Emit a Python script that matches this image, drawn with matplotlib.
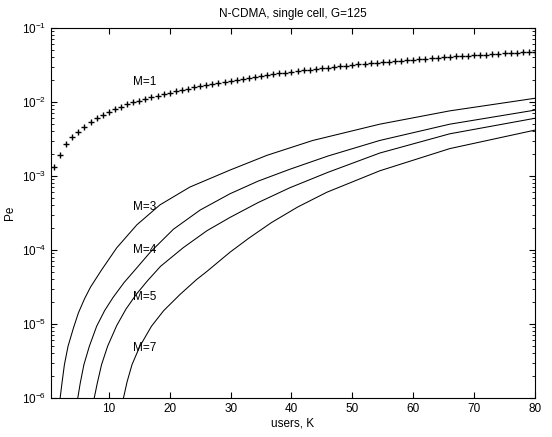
import matplotlib
matplotlib.use('Agg')
import matplotlib.pyplot as plt
import numpy as np

plt.rcParams['font.family'] = ['Liberation Sans', 'DejaVu Sans']
plt.rcParams['mathtext.fontset'] = 'custom'
plt.rcParams['mathtext.rm'] = 'Liberation Sans'

# M=1, one point per user count K=1..80
k_m1 = list(range(1, 81))
pe_m1 = [1.33e-3, 1.95e-3, 2.67e-3, 3.32e-3, 3.95e-3, 4.62e-3, 5.30e-3, 6.00e-3, 6.75e-3, 7.35e-3,
         7.95e-3, 8.60e-3, 9.25e-3, 9.85e-3, 1.04e-2, 1.09e-2, 1.15e-2, 1.21e-2, 1.27e-2, 1.33e-2,
         1.39e-2, 1.45e-2, 1.51e-2, 1.58e-2, 1.64e-2, 1.70e-2, 1.76e-2, 1.82e-2, 1.88e-2, 1.94e-2,
         2.00e-2, 2.06e-2, 2.12e-2, 2.19e-2, 2.25e-2, 2.31e-2, 2.37e-2, 2.43e-2, 2.49e-2, 2.55e-2,
         2.61e-2, 2.67e-2, 2.73e-2, 2.79e-2, 2.85e-2, 2.91e-2, 2.97e-2, 3.03e-2, 3.09e-2, 3.15e-2,
         3.21e-2, 3.27e-2, 3.33e-2, 3.39e-2, 3.45e-2, 3.50e-2, 3.56e-2, 3.62e-2, 3.68e-2, 3.74e-2,
         3.79e-2, 3.85e-2, 3.91e-2, 3.97e-2, 4.02e-2, 4.08e-2, 4.13e-2, 4.18e-2, 4.23e-2, 4.28e-2,
         4.33e-2, 4.38e-2, 4.43e-2, 4.48e-2, 4.53e-2, 4.58e-2, 4.63e-2, 4.68e-2, 4.73e-2, 4.78e-2]

# other M: (K, log10 Pe) pairs
k_m3 = [2.0, 2.3, 2.7, 3.3, 4.2, 5.0, 6.0, 7.0, 8.8, 11.3, 14.6, 18.4, 23.3, 29.9, 36, 43.5, 54.5, 66, 80]
lg_m3 = [-6.0, -5.8, -5.55, -5.3, -5.05, -4.85, -4.66, -4.50, -4.27, -3.97, -3.66, -3.39, -3.15,
         -2.92, -2.72, -2.52, -2.30, -2.12, -1.95]

k_m4 = [4.9, 5.3, 5.9, 6.8, 8.0, 9.3, 10.7, 12.5, 14.5, 16.8, 20.6, 25.0, 29.9, 34.5, 39.7, 46, 54.5, 66, 80]
lg_m4 = [-6.0, -5.8, -5.55, -5.3, -5.03, -4.82, -4.64, -4.44, -4.25, -4.03, -3.72, -3.46, -3.24,
         -3.07, -2.91, -2.73, -2.52, -2.30, -2.11]

k_m5 = [7.6, 8.1, 8.8, 9.8, 11.3, 12.8, 14.5, 16.3, 18.5, 22.2, 26.1, 29.9, 34.5, 39.7, 46, 54.5, 66, 80]
lg_m5 = [-6.0, -5.8, -5.55, -5.3, -5.02, -4.80, -4.60, -4.42, -4.22, -3.97, -3.74, -3.56, -3.36,
         -3.16, -2.95, -2.69, -2.43, -2.22]

k_m7 = [12.4, 13.0, 13.8, 15.1, 17.0, 19.0, 21.7, 24.4, 26.1, 29.9, 33, 36.7, 41, 45.8, 54.5, 66, 80]
lg_m7 = [-6.0, -5.78, -5.55, -5.30, -5.03, -4.82, -4.60, -4.40, -4.29, -4.03, -3.84, -3.63, -3.42,
         -3.22, -2.93, -2.63, -2.38]

labels = ['M=1', 'M=3', 'M=4', 'M=5', 'M=7']
label_pe = [1.86e-2, 3.8e-4, 1.0e-4, 2.35e-5, 4.8e-6]

fig = plt.figure(figsize=(5.52, 4.37), dpi=100)
ax = fig.add_axes([0.0924, 0.0892, 0.8768, 0.8468])

ax.plot(k_m1, pe_m1, '+', color='black', markersize=5, mew=1.0)
for k, lg in [(k_m3, lg_m3), (k_m4, lg_m4), (k_m5, lg_m5), (k_m7, lg_m7)]:
    ax.plot(k, 10 ** np.array(lg), '-', color='black', linewidth=0.75)

for lab, pe in zip(labels, label_pe):
    ax.text(14.0, pe, lab, fontsize=8.5, ha='left', va='center')

ax.set_yscale('log')
ax.set_xlim(0.5, 80)
ax.set_ylim(1e-6, 1e-1)
ax.set_xticks([10, 20, 30, 40, 50, 60, 70, 80])
ax.tick_params(which='both', direction='in', top=True, right=True, labelsize=8.5)
ax.tick_params(which='major', length=4)
ax.tick_params(which='minor', length=2)
for s in ax.spines.values():
    s.set_linewidth(0.8)

ax.set_title('N-CDMA, single cell, G=125', fontsize=8.5, pad=8)
ax.set_xlabel('users, K', fontsize=8.5, labelpad=2)
ax.set_ylabel('Pe', fontsize=8.5, labelpad=4)

fig.savefig('out.png', dpi=100)
